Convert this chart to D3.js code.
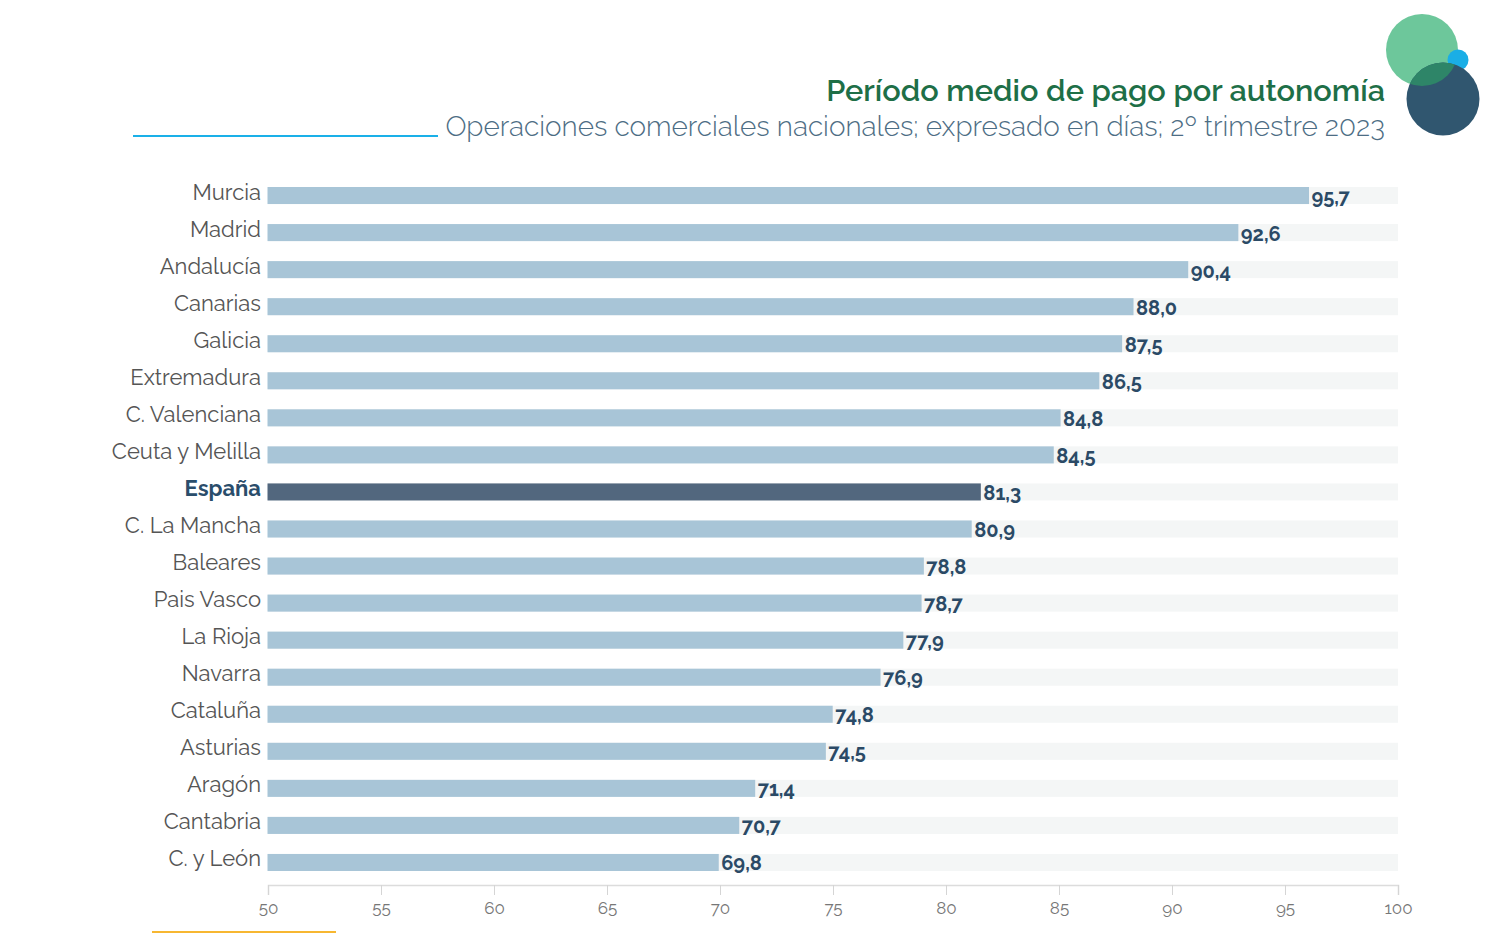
<!DOCTYPE html>
<html><head><meta charset="utf-8">
<script src="https://cdn.jsdelivr.net/npm/d3@7"></script>
<style>body{margin:0;background:#fff}svg{display:block}</style>
</head><body><svg id="c" width="1512" height="940"></svg>
<script>
const categories = ["Murcia","Madrid","Andalucía","Canarias","Galicia","Extremadura","C. Valenciana","Ceuta y Melilla","España","C. La Mancha","Baleares","Pais Vasco","La Rioja","Navarra","Cataluña","Asturias","Aragón","Cantabria","C. y León"];
const values = [95.7,92.6,90.4,88.0,87.5,86.5,84.8,84.5,81.3,80.9,78.8,78.7,77.9,76.9,74.8,74.5,71.4,70.7,69.8];
const highlight = "España";
const xTicks = [50,55,60,65,70,75,80,85,90,95,100];
const title = "Período medio de pago por autonomía";
const subtitle = "Operaciones comerciales nacionales; expresado en días; 2º trimestre 2023";

const svg = d3.select("#c");
const F = "Raleway, Lato, 'Open Sans', sans-serif";
const x = d3.scaleLinear().domain([50,100]).range([268,1398]);      // axis / track
const xb = d3.scaleLinear().domain([50,100]).range([267.5,1407]);   // bars (as drawn in the original)
const y = d3.scaleBand().domain(categories).range([177, 881]).paddingInner(0.54).paddingOuter(0.27);
const fmt = v => v.toFixed(1).replace(".", ",");

// decorative circles
const defs = svg.append("defs");
defs.append("clipPath").attr("id","dk").append("circle").attr("cx",1443).attr("cy",99).attr("r",36.5);
const deco = svg.append("g");
deco.append("circle").attr("cx",1422).attr("cy",50).attr("r",36).attr("fill","#6dc79b");
deco.append("circle").attr("cx",1458).attr("cy",60).attr("r",10.5).attr("fill","#1aaee6");
deco.append("circle").attr("cx",1443).attr("cy",99).attr("r",36.5).attr("fill","#30566f");
deco.append("circle").attr("cx",1422).attr("cy",50).attr("r",36).attr("fill","#2e8568").attr("clip-path","url(#dk)");

// title
function fitText(sel, w){ const n = sel.node(); const l = n.getComputedTextLength(); const fs = parseFloat(sel.attr("font-size")); sel.attr("font-size", fs*w/l); }
const t1 = svg.append("text").attr("x",1385).attr("y",101).attr("text-anchor","end")
  .attr("font-family",F).attr("font-weight",600).attr("font-size",29).attr("fill","#1e6f47").text(title);
fitText(t1, 559);
const t2 = svg.append("text").attr("x",1385).attr("y",136).attr("text-anchor","end")
  .attr("font-family",F).attr("font-weight",300).attr("font-size",26).attr("fill","#4d6d84").text(subtitle);
fitText(t2, 940);
svg.append("line").attr("x1",133).attr("x2",438).attr("y1",136).attr("y2",136).attr("stroke","#1ab0e8").attr("stroke-width",2);
svg.append("line").attr("x1",152).attr("x2",336).attr("y1",932).attr("y2",932).attr("stroke","#f7b731").attr("stroke-width",2);

// background tracks
svg.append("g").selectAll("rect").data(categories).join("rect")
  .attr("x",x(50)).attr("width",x(100)-x(50)).attr("y",d=>y(d)).attr("height",y.bandwidth()).attr("fill","#f4f6f6");
// bars
const data = categories.map((c,i)=>({c, v:values[i]}));
svg.append("g").selectAll("rect").data(data).join("rect")
  .attr("x",xb(50)).attr("width",d=>xb(d.v)-xb(50)).attr("y",d=>y(d.c)).attr("height",y.bandwidth())
  .attr("fill",d=>d.c===highlight?"#52677e":"#a8c5d7");
// value labels
svg.append("g").selectAll("text").data(data).join("text")
  .attr("x",d=>xb(d.v)+2.5).attr("y",d=>y(d.c)+y.bandwidth()/2+8)
  .attr("font-family",F).attr("font-weight",700).attr("font-size",20).attr("fill","#2b4a66").text(d=>fmt(d.v));
// category labels
svg.append("g").selectAll("text").data(categories).join("text")
  .attr("x",261).attr("y",d=>y(d)+y.bandwidth()/2+4).attr("text-anchor","end")
  .attr("font-family",F).attr("font-size",22)
  .attr("font-weight",d=>d===highlight?700:400)
  .attr("fill",d=>d===highlight?"#2a4d6b":"#555").text(d=>d);

// axis
const ax = svg.append("g").attr("transform","translate(0,885)")
  .call(d3.axisBottom(x).tickValues(xTicks).tickSize(10).tickPadding(7).tickFormat(d=>d));
ax.select(".domain").attr("stroke","#dcdcdc").attr("stroke-width",1.5);
ax.selectAll(".tick line").attr("stroke","#d5d5d5");
ax.selectAll(".tick text").attr("font-family",F).attr("font-size",17).attr("fill","#777");
</script></body></html>
